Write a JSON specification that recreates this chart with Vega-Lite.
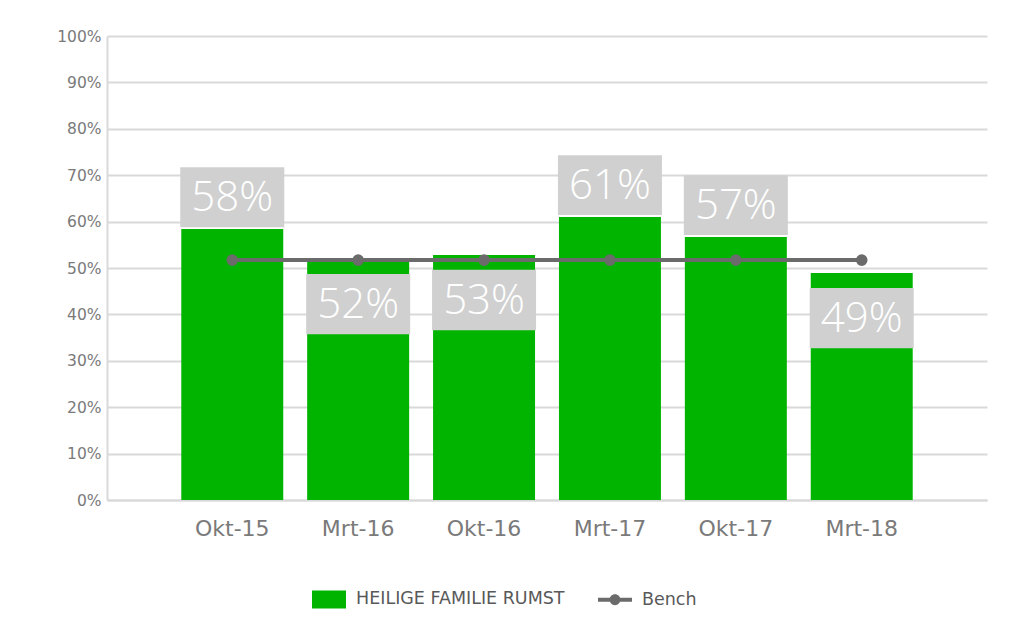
{
  "$schema": "https://vega.github.io/schema/vega-lite/v6.json",
  "autosize": {"type": "none"},
  "width": 880,
  "height": 464,
  "padding": {"left": 107, "top": 36, "right": 37, "bottom": 138},
  "background": "white",
  "config": {
    "view": {"stroke": null},
    "font": "DejaVu Sans"
  },
  "data": {
    "values": [
      {"cat": "Okt-15", "v": 0.584, "bench": 0.517, "series": "HEILIGE FAMILIE RUMST"},
      {"cat": "Mrt-16", "v": 0.519, "bench": 0.517, "series": "HEILIGE FAMILIE RUMST"},
      {"cat": "Okt-16", "v": 0.528, "bench": 0.517, "series": "HEILIGE FAMILIE RUMST"},
      {"cat": "Mrt-17", "v": 0.610, "bench": 0.517, "series": "HEILIGE FAMILIE RUMST"},
      {"cat": "Okt-17", "v": 0.567, "bench": 0.517, "series": "HEILIGE FAMILIE RUMST"},
      {"cat": "Mrt-18", "v": 0.489, "bench": 0.517, "series": "HEILIGE FAMILIE RUMST"}
    ]
  },
  "transform": [
    {"calculate": "datum.v >= datum.bench + 0.03", "as": "above"},
    {"calculate": "datum.above ? datum.v + 0.004 : datum.v - 0.162", "as": "lo"},
    {"calculate": "datum.above ? datum.v + 0.133 : datum.v - 0.032", "as": "hi"},
    {"calculate": "(datum.lo + datum.hi) / 2", "as": "mid"}
  ],
  "encoding": {
    "x": {
      "field": "cat",
      "type": "nominal",
      "sort": null,
      "scale": {"paddingInner": 0.19, "paddingOuter": 0.59},
      "axis": {
        "title": null,
        "labelAngle": 0,
        "ticks": false,
        "domainColor": "#d9d9d9",
        "domainWidth": 2,
        "labelFont": "DejaVu Sans",
        "labelFontSize": 22,
        "labelColor": "#7a7a7a",
        "labelPadding": 18
      }
    }
  },
  "layer": [
    {
      "mark": {"type": "bar"},
      "encoding": {
        "y": {
          "field": "v",
          "type": "quantitative",
          "scale": {"domain": [0, 1], "nice": false},
          "axis": {
            "title": null,
            "values": [0, 0.1, 0.2, 0.3, 0.4, 0.5, 0.6, 0.7, 0.8, 0.9, 1],
            "format": ".0%",
            "ticks": false,
            "grid": true,
            "gridColor": "#d9d9d9",
            "gridWidth": 2,
            "domainColor": "#d9d9d9",
            "domainWidth": 2,
            "labelFont": "DejaVu Sans",
            "labelFontSize": 15.5,
            "labelColor": "#7a7a7a",
            "labelPadding": 6
          }
        },
        "color": {
          "field": "series",
          "type": "nominal",
          "scale": {"domain": ["HEILIGE FAMILIE RUMST", "Bench"], "range": ["#00b400", "#6b6b6b"]},
          "legend": {
            "title": null,
            "orient": "none",
            "legendX": 205,
            "legendY": 546,
            "direction": "horizontal",
            "symbolSize": 1156,
            "symbolStrokeWidth": 0,
            "labelFont": "DejaVu Sans",
            "labelFontSize": 17.5,
            "labelColor": "#595959",
            "labelOffset": 10,
            "labelLimit": 400,
            "columnPadding": 33,
            "encode": {
              "symbols": {
                "update": {
                  "shape": {"signal": "datum.value === 'Bench' ? 'M-1,-0.12H1V0.12H-1Z M0.32,0A0.32,0.32,0,1,1,-0.32,0A0.32,0.32,0,1,1,0.32,0Z' : 'M-1,-0.53H1V0.53H-1Z'"},
                  "fill": {"signal": "datum.value === 'Bench' ? '#6b6b6b' : '#00b400'"},
                  "strokeWidth": {"value": 0},
                  "opacity": {"value": 1}
                }
              }
            }
          }
        }
      }
    },
    {
      "mark": {"type": "bar", "color": "#d0d0d0", "width": {"band": 1.02}},
      "encoding": {
        "y": {"field": "lo", "type": "quantitative"},
        "y2": {"field": "hi"}
      }
    },
    {
      "mark": {
        "type": "line",
        "color": "#6b6b6b",
        "strokeWidth": 4,
        "point": {"filled": true, "size": 135, "color": "#6b6b6b"}
      },
      "encoding": {
        "y": {"field": "bench", "type": "quantitative"}
      }
    },
    {
      "mark": {
        "type": "text",
        "color": "white",
        "font": "Open Sans",
        "fontWeight": 300,
        "fontSize": 42,
        "baseline": "middle",
        "align": "center",
        "dy": 1
      },
      "encoding": {
        "y": {"field": "mid", "type": "quantitative"},
        "text": {"field": "v", "type": "quantitative", "format": ".0%"}
      }
    }
  ]
}
